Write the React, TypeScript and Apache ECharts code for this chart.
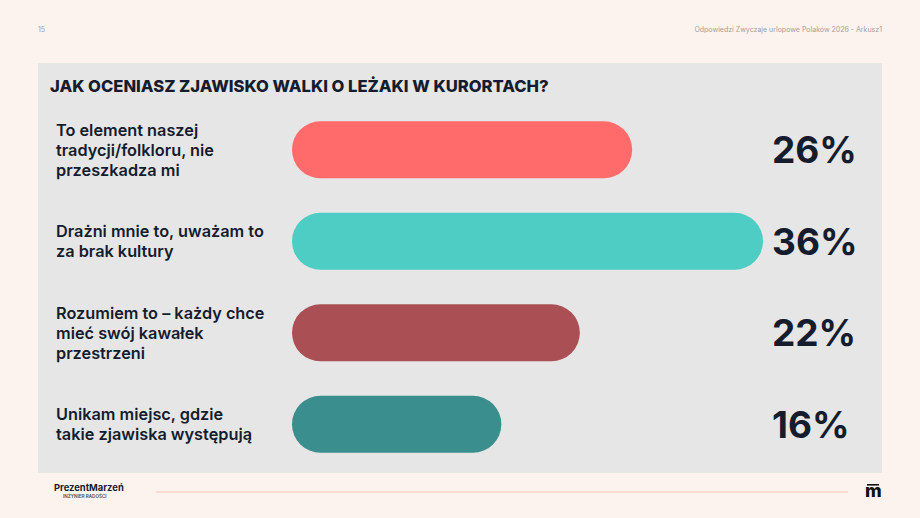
import React, { useEffect, useRef } from "react";
import * as echarts from "echarts";

const categories = [
  "To element naszej\ntradycji/folkloru, nie\nprzeszkadza mi",
  "Drażni mnie to, uważam to\nza brak kultury",
  "Rozumiem to – każdy chce\nmieć swój kawałek\nprzestrzeni",
  "Unikam miejsc, gdzie\ntakie zjawiska występują",
];
const values = [26, 36, 22, 16];
const barColors = ["#ff6b6b", "#4ecdc4", "#aa4f54", "#3b8e8e"];
const valueLabels = values.map((v) => v + "%");

const titleText = "JAK OCENIASZ ZJAWISKO WALKI O LEŻAKI W KURORTACH?";
const pageNumber = "15";
const sourceText = "Odpowiedzi Zwyczaje urlopowe Polaków 2026 - Arkusz1";

const DARK = "#151c2e";
const FONT = "Inter, 'Noto Sans', sans-serif";

export default function App() {
  const ref = useRef<HTMLDivElement>(null);
  useEffect(() => {
    document.body.style.margin = "0";
    if (!ref.current) return;
    const chart = echarts.init(ref.current, undefined, { renderer: "svg" });
    const maxVal = Math.max(...values);
    chart.setOption({
      animation: false,
      backgroundColor: "#fdf3ee",
      textStyle: { fontFamily: FONT },
      graphic: [
        {
          type: "rect",
          z: -10,
          shape: { x: 38, y: 63, width: 844, height: 410 },
          style: { fill: "#e6e6e6" },
        },
        {
          type: "text",
          left: 38,
          top: 26,
          style: { text: pageNumber, fontSize: 7, fill: "#a0a0a0", fontFamily: FONT },
        },
        {
          type: "text",
          right: 38,
          top: 26,
          style: { text: sourceText, fontSize: 7, fill: "#a0a0a0", fontFamily: FONT },
        },
        {
          type: "text",
          left: 50,
          top: 77,
          style: {
            text: titleText,
            fontSize: 16.6,
            fontWeight: 800,
            fill: DARK,
            fontFamily: FONT,
          },
        },
        {
          type: "line",
          shape: { x1: 156, y1: 492, x2: 848, y2: 492 },
          style: { stroke: "#f8d2c8", lineWidth: 1.5 },
        },
        {
          type: "text",
          left: 54,
          top: 483,
          style: {
            text: "PrezentMarzeń",
            fontSize: 9.4,
            fontWeight: 700,
            fill: DARK,
            fontFamily: FONT,
          },
        },
        {
          type: "text",
          left: 63,
          top: 494,
          style: {
            text: "INŻYNIER RADOŚCI",
            fontSize: 4.6,
            fontWeight: 600,
            fill: "#444a58",
            fontFamily: FONT,
          },
        },
        {
          type: "text",
          left: 865,
          top: 481,
          style: {
            text: "m",
            fontSize: 18,
            fontWeight: 800,
            fill: "#111111",
            fontFamily: FONT,
          },
        },
        {
          type: "rect",
          shape: { x: 867, y: 484, width: 12, height: 1.6 },
          style: { fill: "#111111" },
        },
      ],
      grid: { left: 292, right: 920 - 763, top: 104, height: 366, containLabel: false },
      xAxis: {
        type: "value",
        min: 0,
        max: maxVal,
        show: false,
        splitLine: { show: false },
      },
      yAxis: [
        {
          type: "category",
          inverse: true,
          data: categories,
          axisLine: { show: false },
          axisTick: { show: false },
          axisLabel: {
            align: "left",
            margin: 236,
            fontSize: 16.3,
            fontWeight: 600,
            lineHeight: 20,
            color: DARK,
            fontFamily: FONT,
          },
        },
        {
          type: "category",
          inverse: true,
          position: "right",
          data: valueLabels,
          axisLine: { show: false },
          axisTick: { show: false },
          axisLabel: {
            align: "left",
            margin: 9,
            fontSize: 37,
            fontWeight: 700,
            color: DARK,
            fontFamily: FONT,
          },
        },
      ],
      series: [
        {
          type: "bar",
          yAxisIndex: 0,
          barWidth: 57,
          data: values.map((v, i) => ({
            value: v,
            itemStyle: { color: barColors[i], borderRadius: 28.5 },
          })),
        },
      ],
    });
    return () => chart.dispose();
  }, []);
  return <div ref={ref} style={{ width: 920, height: 518 }} />;
}
